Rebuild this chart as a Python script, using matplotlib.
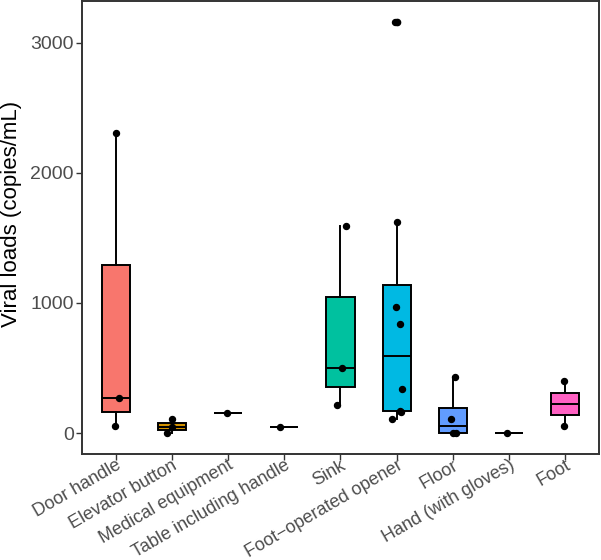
import matplotlib
matplotlib.use("Agg")
import matplotlib.pyplot as plt
from matplotlib.transforms import ScaledTranslation

plt.rcParams['font.family'] = ['Liberation Sans', 'DejaVu Sans']

# data (copies/mL)
categories = ["Door handle", "Elevator button", "Medical equipment",
              "Table including handle", "Sink", "Foot\u2212operated opener",
              "Floor", "Hand (with gloves)", "Foot"]
door_handle = [54, 273, 2308]
elevator_button = [2, 48, 108]
medical_equipment = [158]
table_handle = [48]
sink = [214, 500, 1594]
foot_opener = [109, 160, 170, 342, 836, 972, 1622, 3155]
floor = [0, 0, 109, 431]
hand_gloves = [1]
foot = [54, 398]
y_ticks = [0, 1000, 2000, 3000]

groups = [door_handle, elevator_button, medical_equipment, table_handle,
          sink, foot_opener, floor, hand_gloves, foot]
colors = ["#F8766D", "#D39200", "#93AA00", "#00BA38", "#00C19F",
          "#00B9E3", "#619CFF", "#DB72FB", "#FF61C3"]

# horizontal jitter of the dots
jitter = [
    [-0.01, 0.05, 0.01],
    [-0.08, 0.0, 0.0],
    [-0.02],
    [-0.08],
    [-0.06, 0.02, 0.09],
    [-0.09, 0.07, 0.06, 0.09, 0.05, -0.02, 0.0, -0.03],
    [0.01, 0.06, -0.03, 0.04],
    [-0.04],
    [-0.03, -0.02],
]

fig = plt.figure(figsize=(6.01, 5.6), dpi=100)
ax = fig.add_axes([0.1364, 0.1893, 0.8603, 0.8087])

pos = list(range(1, len(categories) + 1))
bp = ax.boxplot(groups, positions=pos, widths=0.5, patch_artist=True,
                whis=1.5, manage_ticks=False,
                medianprops=dict(color="black", linewidth=1.4),
                whiskerprops=dict(color="black", linewidth=1.4),
                capprops=dict(linewidth=0),
                boxprops=dict(edgecolor="black", linewidth=1.4),
                flierprops=dict(marker="o", markerfacecolor="black",
                                markeredgecolor="black", markersize=4.5))
for patch, c in zip(bp["boxes"], colors):
    patch.set_facecolor(c)

for i, (vals, jit) in enumerate(zip(groups, jitter)):
    xs = [pos[i] + j for j in jit]
    ax.plot(xs, vals, "o", color="black", markersize=4.3, zorder=5)

ax.set_xlim(0.4, 9.6)
ax.set_ylim(-160, 3318)
ax.set_xticks(pos)
ax.set_xticklabels(categories, rotation=30, ha="right",
                   rotation_mode="anchor", fontsize=13, color="#4D4D4D")
# nudge labels a bit right, like ggplot does
shift = ScaledTranslation(5 / 100, 0, fig.dpi_scale_trans)
for lab in ax.xaxis.get_majorticklabels():
    lab.set_transform(lab.get_transform() + shift)
ax.set_yticks(y_ticks)
ax.set_yticklabels([str(t) for t in y_ticks], fontsize=14, color="#4D4D4D")
ax.set_ylabel("Viral loads (copies/mL)", fontsize=16, color="black")
ax.yaxis.set_label_coords(-0.116, 0.53)
ax.tick_params(length=4, width=1, color="#333333")
ax.tick_params(axis="x", pad=-2)
ax.tick_params(axis="y", pad=2)
for s in ax.spines.values():
    s.set_color("#333333")
    s.set_linewidth(1.4)

fig.savefig("out.png", dpi=100)
